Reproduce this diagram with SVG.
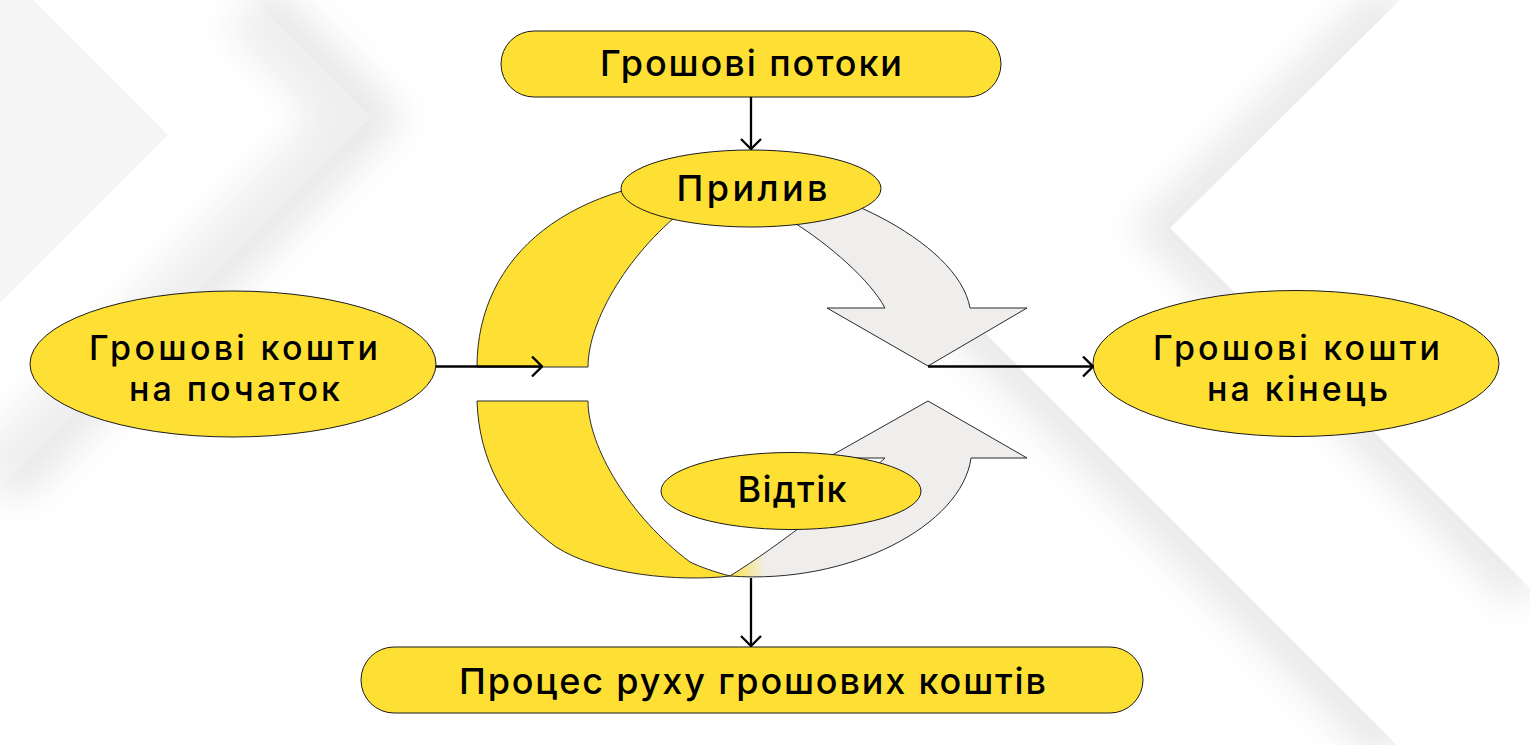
<svg xmlns="http://www.w3.org/2000/svg" width="1530" height="745" viewBox="0 0 1530 745">
  <style>
    .node { fill: #FEE035; stroke: #1a1a1a; stroke-width: 1; }
    .flow { stroke: #2a2a2a; stroke-width: 1; fill: url(#flowGrad); }
    .lbl { font-family: Inter, "Open Sans", "DejaVu Sans", sans-serif; font-size: 36px; font-weight: 500; fill: #000; text-anchor: middle; }
    .lbl2 { font-family: Inter, "Open Sans", "DejaVu Sans", sans-serif; font-size: 34px; font-weight: 500; fill: #000; text-anchor: middle; }
    .conn { stroke: #000; stroke-width: 2.3; fill: none; marker-end: url(#arr); }
    .shade { fill: none; filter: url(#soft); }
  </style>
  <defs>
    <linearGradient id="flowGrad" gradientUnits="userSpaceOnUse" x1="477" y1="0" x2="1027" y2="0">
      <stop offset="0" stop-color="#FEE035"/>
      <stop offset="0.455" stop-color="#FEE035"/>
      <stop offset="0.525" stop-color="#EFEEEC"/>
      <stop offset="1" stop-color="#EFEEEC"/>
    </linearGradient>
    <filter id="soft" filterUnits="userSpaceOnUse" x="-200" y="-200" width="1930" height="1145">
      <feGaussianBlur stdDeviation="18"/>
    </filter>
    <clipPath id="clipRightB"><polygon points="253,0 1000,0 1000,745 0,745 0,487 370,117"/></clipPath>
    <clipPath id="clipBetweenAB"><polygon points="33,0 253,0 370,117 0,487 0,303 168,135"/></clipPath>
    <clipPath id="clipBelowD"><polygon points="880,228 1397,745 700,745 700,228"/></clipPath>
    <clipPath id="clipOutsideC"><polygon points="1400,0 1170,228 1530,588 1530,745 1397,745 880,228 880,0"/></clipPath>
    <marker id="arr" viewBox="0 0 12 22" refX="11" refY="11" markerWidth="12" markerHeight="22" orient="auto" markerUnits="userSpaceOnUse">
      <path d="M1,1 L11,11 L1,21" fill="none" stroke="#000" stroke-width="2.3"/>
    </marker>
  </defs>

  <g id="background">
    <rect x="0" y="0" width="1530" height="745" fill="#ffffff"/>
    <polygon points="0,0 33,0 168,135 0,303" fill="#f5f5f5"/>
    <path class="shade" d="M253,0 L370,117 L0,487" stroke="#efefef" stroke-width="80" clip-path="url(#clipBetweenAB)"/>
    <path class="shade" d="M253,0 L370,117 L0,487" stroke="#e8e8e8" stroke-width="50" clip-path="url(#clipRightB)"/>
    <path class="shade" d="M880,228 L1397,745" stroke="#e9e9e9" stroke-width="55" clip-path="url(#clipBelowD)"/>
    <path class="shade" d="M1400,0 L1170,228 L1530,588" stroke="#eaeaea" stroke-width="55" clip-path="url(#clipOutsideC)"/>
  </g>

  <g id="flow-arrows">
    <path id="inflow-arrow" class="flow" d="M477,367 C477,255 570,178 728,176 C820,176 958,240 970,308 L1027,308 L928,366 L827,308 L885,308 C870,280 830,245 790,220 C760,200 720,195 690,205 C630,250 588,320 588,367 Z"/>
    <path id="outflow-arrow" class="flow" d="M477,401 C479,460 505,510 556,547 C600,575 680,582 730,576 C780,545 850,490 885,458 L827,458 L928,401 L1027,458 L971,458 C962,525 850,585 730,576 C715,572 700,567 690,562 C630,517 588,447 588,401 Z"/>
  </g>

  <g id="node-cash-flows">
    <rect class="node" x="501" y="31" width="500" height="66" rx="33" ry="33"/>
    <text class="lbl" x="751" y="76" textLength="302" lengthAdjust="spacing">Грошові потоки</text>
  </g>
  <g id="node-inflow">
    <ellipse class="node" cx="751" cy="188.5" rx="130" ry="38.5"/>
    <text class="lbl" x="752" y="201" textLength="151" lengthAdjust="spacing">Прилив</text>
  </g>
  <g id="node-start-cash">
    <ellipse class="node" cx="233" cy="364" rx="203" ry="73"/>
    <text class="lbl2"><tspan x="233.5" y="360" textLength="289" lengthAdjust="spacing">Грошові кошти</tspan><tspan x="234.5" y="401" textLength="211" lengthAdjust="spacing">на початок</tspan></text>
  </g>
  <g id="node-end-cash">
    <ellipse class="node" cx="1296" cy="363.5" rx="203" ry="73"/>
    <text class="lbl2"><tspan x="1296.5" y="360" textLength="287" lengthAdjust="spacing">Грошові кошти</tspan><tspan x="1297.5" y="401" textLength="181" lengthAdjust="spacing">на кінець</tspan></text>
  </g>
  <g id="node-outflow">
    <ellipse class="node" cx="791" cy="491" rx="130" ry="38.5"/>
    <text class="lbl" x="792" y="502" textLength="109" lengthAdjust="spacing">Відтік</text>
  </g>
  <g id="node-process">
    <rect class="node" x="361" y="647" width="782" height="66" rx="33" ry="33"/>
    <text class="lbl" x="752.5" y="694" textLength="587" lengthAdjust="spacing">Процес руху грошових коштів</text>
  </g>

  <g id="connectors">
    <path class="conn" d="M751,97 L751,149"/>
    <path class="conn" d="M436,366.5 L542,366.5"/>
    <path class="conn" d="M928,366.5 L1093,366.5"/>
    <path class="conn" d="M751,578 L751,646"/>
  </g>
</svg>
